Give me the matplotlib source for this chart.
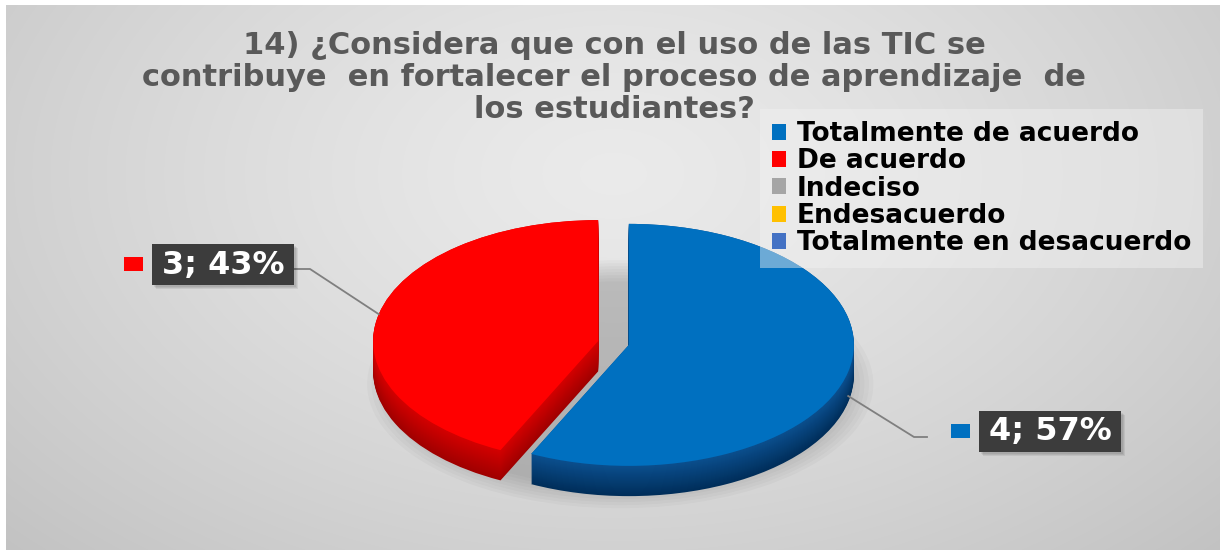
import matplotlib
matplotlib.use("Agg")
import matplotlib.pyplot as plt
import numpy as np
from matplotlib.patches import Ellipse, Rectangle

# ---------- Data ----------
categories = ["Totalmente de acuerdo", "De acuerdo", "Indeciso",
              "Endesacuerdo", "Totalmente en desacuerdo"]
counts = [4, 3, 0, 0, 0]

title_lines = ["14) ¿Considera que con el uso de las TIC se",
               "contribuye  en fortalecer el proceso de aprendizaje  de",
               "los estudiantes?"]

top_colors = ["#0070C0", "#FF0000", "#A5A5A5", "#FFC000", "#4472C4"]
side_dark = ["#002E5A", "#A00000", "#7A7A7A", "#BF9000", "#2F5597"]
side_light = ["#0B4F8E", "#D40000", "#8C8C8C", "#D9A400", "#3A66B5"]
explode = [0.07, 0.07, 0, 0, 0]

# ---------- Figure geometry (pixels) ----------
W, H = 1220, 550
CX, CY = 613.5, 343      # pie centre
RX, RY = 225, 121        # ellipse radii
DEPTH = 0.25             # side thickness in pie units

fig = plt.figure(figsize=(W / 100, H / 100), dpi=100)
fig.patch.set_facecolor("white")

# background gradient
bg = fig.add_axes([0, 0, 1, 1], zorder=0)
yy, xx = np.mgrid[0:H, 0:W]
r = np.sqrt(((xx - 610) / 820.0) ** 2 + ((yy - 170) / 520.0) ** 2)
shade = np.clip(0.92 - 0.15 * r ** 1.3, 0, 1)
shade = np.dstack([shade] * 3)
bg.imshow(shade, extent=(6, W, H, 5), aspect="auto", interpolation="bilinear")
bg.set_xlim(0, W)
bg.set_ylim(H, 0)
bg.axis("off")

# pie axes, one unit = one radius
ax = fig.add_axes([0, 0, 1, 1], zorder=1)
ax.patch.set_alpha(0)

# soft shadow under the pie
for k in range(8):
    ax.add_patch(Ellipse((0.03, -0.34), 2.25 - k * 0.04, 2.05 - k * 0.05,
                         color="black", alpha=0.025, lw=0))

# side of the 3D pie: stacked layers
layers = np.linspace(DEPTH, 0.0, 32)
for i, d in enumerate(layers):
    t = i / (len(layers) - 1)
    cols = [tuple((1 - t) * np.array(matplotlib.colors.to_rgb(a)) +
                  t * np.array(matplotlib.colors.to_rgb(b)))
            for a, b in zip(side_dark, side_light)]
    ax.pie(counts, colors=cols, startangle=90, counterclock=False,
           explode=explode, radius=1, center=(0, -d),
           wedgeprops=dict(linewidth=0))

wedges, _ = ax.pie(counts, colors=top_colors, startangle=90,
                   counterclock=False, explode=explode, radius=1,
                   center=(0, 0), wedgeprops=dict(linewidth=0))

ax.set_aspect("auto")
ax.set_xlim(-CX / RX, (W - CX) / RX)
ax.set_ylim((CY - H) / RY, CY / RY)
ax.axis("off")

# title, one text per line
for k, line in enumerate(title_lines):
    fig.text(614 / W, 1 - (46 + 32 * k) / H, line, ha="center", va="center",
             fontsize=22, fontweight="bold", color="#595959")

# legend
leg = ax.legend(wedges, categories, loc="upper left",
                bbox_to_anchor=(768 / W, 1 - 117 / H),
                bbox_transform=fig.transFigure, frameon=True,
                prop=dict(size=19, weight="bold"),
                handlelength=0.55, handleheight=0.55, handletextpad=0.4,
                labelspacing=0.05, borderpad=0.15, borderaxespad=0)
leg.get_frame().set_facecolor("#f2f2f2")
leg.get_frame().set_alpha(0.45)
leg.get_frame().set_edgecolor("none")
leg.get_frame().set_boxstyle("square")

# data labels with leader lines
ov = fig.add_axes([0, 0, 1, 1], zorder=2)
ov.patch.set_alpha(0)
ov.set_xlim(0, W)
ov.set_ylim(H, 0)
ov.axis("off")

total = sum(counts)
label_pos = {0: (1050, 431), 1: (223, 264)}
bw, bh = 142, 41
cum = 0
for i, v in enumerate(counts):
    frac = v / total
    if v == 0:
        cum += frac
        continue
    mid = np.deg2rad(90 - 360 * (cum + frac / 2))
    cum += frac
    ex, ey = explode[i] * np.cos(mid), explode[i] * np.sin(mid)
    px = CX + RX * (ex + np.cos(mid))
    py = CY - RY * (ey + np.sin(mid))
    if np.sin(mid) < 0:
        py += RY * DEPTH * 0.8
    bx, by = label_pos[i]
    # box with a soft drop shadow
    for s in range(3):
        ov.add_patch(Rectangle((bx - bw / 2 + 2 + s, by - bh / 2 + 2 + s), bw, bh,
                               fc="black", alpha=0.07, lw=0, zorder=2))
    ov.add_patch(Rectangle((bx - bw / 2, by - bh / 2), bw, bh,
                           fc="#3c3c3c", lw=0, zorder=3))
    ov.text(bx, by + 1, f"{v}; {frac * 100:.0f}%", ha="center", va="center",
            color="white", fontsize=23, fontweight="bold", zorder=4)
    if px > bx:
        ly = by + 5
        ov.plot([bx + bw / 2, bx + bw / 2 + 16, px], [ly, ly, py],
                color="#7f7f7f", lw=1.3, zorder=1)
    else:
        ly = by + 6
        ov.plot([bx - bw / 2 - 52, bx - bw / 2 - 65, px], [ly, ly, py],
                color="#7f7f7f", lw=1.3, zorder=1)
    ov.add_patch(Rectangle((bx - bw / 2 - 28, by - 7), 19, 14,
                           fc=top_colors[i], lw=0, zorder=3))

fig.savefig("out.png", dpi=100, facecolor=fig.get_facecolor())
